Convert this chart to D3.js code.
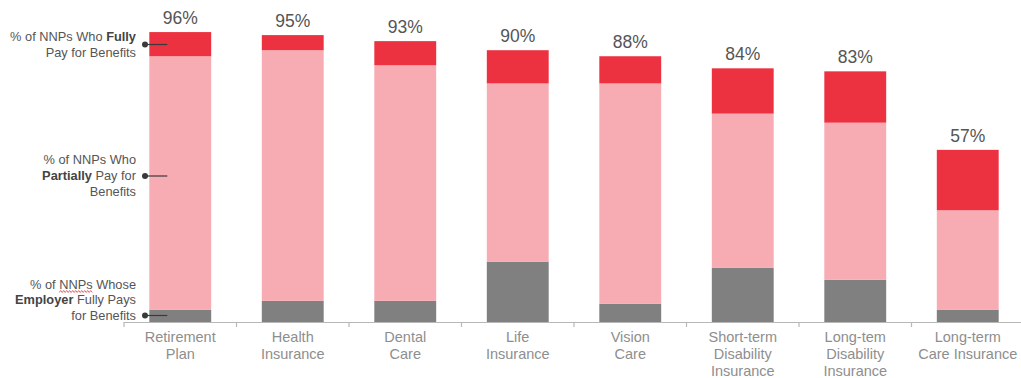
<!DOCTYPE html>
<html>
<head>
<meta charset="utf-8">
<script src="https://cdn.jsdelivr.net/npm/d3@7"></script>
<style>
  html, body { margin: 0; padding: 0; background: #fff; }
  svg { display: block; font-family: "Liberation Sans", Arial, sans-serif; }
</style>
</head>
<body>
<svg id="chart" width="1021" height="378"></svg>
<script>
// Benefit categories (each label split into display lines)
const categories = [
  ["Retirement", "Plan"],
  ["Health", "Insurance"],
  ["Dental", "Care"],
  ["Life", "Insurance"],
  ["Vision", "Care"],
  ["Short-term", "Disability", "Insurance"],
  ["Long-tem", "Disability", "Insurance"],
  ["Long-term", "Care Insurance"]
];
// Stacked shares, bottom to top
const employerFullyPays = [4, 7, 7, 20, 6, 18, 14, 4];
const nnpPartiallyPays  = [84, 83, 78, 59, 73, 51, 52, 33];
const nnpFullyPays      = [8, 5, 8, 11, 9, 15, 17, 20];
const totalLabels       = ["96%", "95%", "93%", "90%", "88%", "84%", "83%", "57%"];

const seriesKeys = ["employer", "partial", "full"];
const colors = { employer: "#808080", partial: "#f7abb2", full: "#ec3240" };

const svg = d3.select("#chart");

const rows = categories.map((c, i) => ({
  idx: i,
  employer: employerFullyPays[i],
  partial: nnpPartiallyPays[i],
  full: nnpFullyPays[i]
}));

const x = d3.scaleBand()
  .domain(d3.range(categories.length))
  .range([124, 1024])
  .paddingInner(0.45)
  .paddingOuter(0.225);

const y = d3.scaleLinear().domain([0, 100]).range([322, 20]);

const stack = d3.stack().keys(seriesKeys)(rows);

// Stacked bars
svg.append("g").selectAll("g")
  .data(stack)
  .join("g")
  .attr("fill", d => colors[d.key])
  .selectAll("rect")
  .data(d => d)
  .join("rect")
  .attr("x", d => x(d.data.idx))
  .attr("width", x.bandwidth())
  .attr("y", d => y(d[1]))
  .attr("height", d => y(d[0]) - y(d[1]));

// Baseline with boundary ticks
const step = x.step();
const axisG = svg.append("g");
axisG.append("line")
  .attr("x1", 124).attr("x2", 1024)
  .attr("y1", y(0) + 0.5).attr("y2", y(0) + 0.5)
  .attr("stroke", "#b8b8b8").attr("stroke-width", 1.2);
axisG.selectAll("line.tick")
  .data(d3.range(categories.length + 1))
  .join("line")
  .attr("class", "tick")
  .attr("x1", i => 124 + i * step).attr("x2", i => 124 + i * step)
  .attr("y1", y(0)).attr("y2", y(0) + 5)
  .attr("stroke", "#b8b8b8").attr("stroke-width", 1.2);

// Category labels
const catG = svg.append("g");
categories.forEach((lines, i) => {
  const t = catG.append("text")
    .attr("x", x(i) + x.bandwidth() / 2)
    .attr("y", 341.5)
    .attr("text-anchor", "middle")
    .attr("fill", "#8e8e8e")
    .attr("font-size", 14.5);
  lines.forEach((ln, j) => {
    t.append("tspan")
      .attr("x", x(i) + x.bandwidth() / 2)
      .attr("dy", j === 0 ? 0 : 17.2)
      .text(ln);
  });
});

// Total labels above bars
svg.append("g").selectAll("text")
  .data(rows)
  .join("text")
  .attr("x", d => x(d.idx) + x.bandwidth() / 2)
  .attr("y", d => y(d.employer + d.partial + d.full) - 8)
  .attr("text-anchor", "middle")
  .attr("fill", "#555")
  .attr("font-size", 17.5)
  .text((d, i) => totalLabels[i]);

// Segment legend annotations on the first bar
const legend = [
  { lines: [[["% of NNPs Who ", false], ["Fully", true]], [["Pay for Benefits", false]]], dotLine: 0.5, key: "full", top: 40.5, lh: 16 },
  { lines: [[["% of NNPs Who", false]], [["Partially", true], [" Pay for", false]], [["Benefits", false]]], dotLine: 1, key: "partial", top: 164, lh: 16 },
  { lines: [[["% of NNPs Whose", false]], [["Employer", true], [" Fully Pays", false]], [["for Benefits", false]]], dotLine: 2, key: "employer", top: 288.5, lh: 15.5 }
];
const legFont = 12.8;
const legG = svg.append("g");
const bar0 = x(0);
legend.forEach(item => {
  const t = legG.append("text")
    .attr("text-anchor", "end")
    .attr("font-size", legFont)
    .attr("fill", "#555");
  item.lines.forEach((parts, j) => {
    const ln = t.append("tspan").attr("x", 136).attr("y", item.top + j * item.lh);
    parts.forEach(([txt, bold], k) => {
      const s = k === 0 ? ln : t.append("tspan");
      s.text(txt);
      if (bold) s.attr("font-weight", "bold").attr("fill", "#444");
    });
  });
  const dy = item.top + item.dotLine * item.lh - 4;
  legG.append("circle").attr("cx", 145).attr("cy", dy).attr("r", 3).attr("fill", "#3a3a3a");
  legG.append("line")
    .attr("x1", 145).attr("x2", bar0 + 18)
    .attr("y1", dy).attr("y2", dy)
    .attr("stroke", "#3a3a3a").attr("stroke-width", 1.2);
});

// Spell-check style squiggle under "NNPs"
(function () {
  const emp = legend[2];
  const tmp = legG.append("text").attr("font-size", legFont).attr("x", -1000).attr("y", -1000).text("% of NNPs Whose");
  const full = tmp.node().getComputedTextLength();
  const startOff = tmp.node().getSubStringLength(0, 5);
  const wLen = tmp.node().getSubStringLength(5, 4);
  tmp.remove();
  const x0 = 136 - full + startOff;
  const yy = emp.top + 3;
  const pts = [];
  for (let px = 0; px <= wLen; px += 1.5) {
    pts.push([x0 + px, yy + ((Math.round(px / 1.5) % 2) ? -1 : 1)]);
  }
  legG.append("path")
    .attr("d", d3.line()(pts))
    .attr("fill", "none")
    .attr("stroke", "#e04040")
    .attr("stroke-width", 0.8);
})();
</script>
</body>
</html>
